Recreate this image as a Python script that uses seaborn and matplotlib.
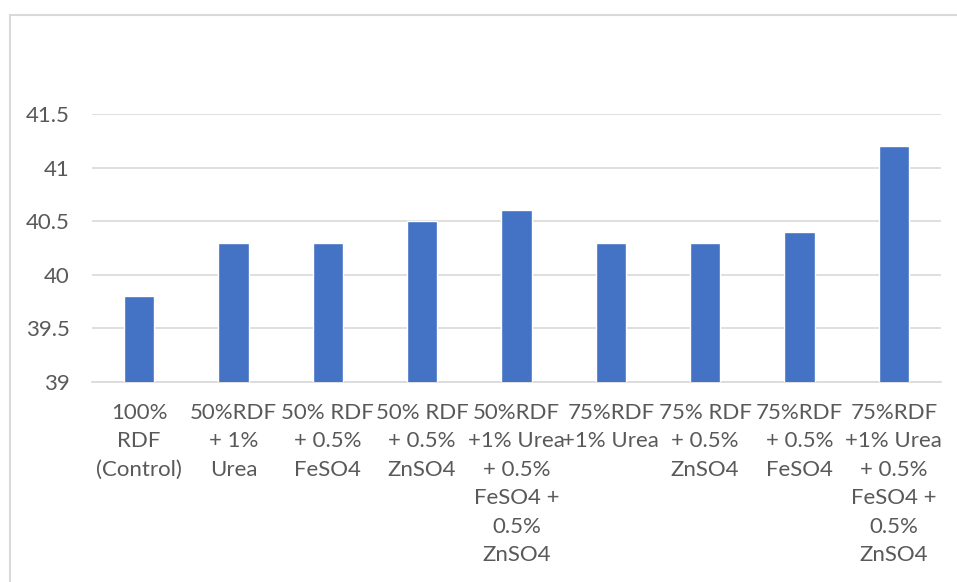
import matplotlib
matplotlib.use("Agg")
import matplotlib.pyplot as plt
from matplotlib.patches import Rectangle
import seaborn as sns
import pandas as pd

treatments = [
    "100%\nRDF\n(Control)",
    "50%RDF\n+ 1%\nUrea",
    "50% RDF\n+ 0.5%\nFeSO4",
    "50% RDF\n+ 0.5%\nZnSO4",
    "50%RDF\n+1% Urea\n+ 0.5%\nFeSO4 +\n0.5%\nZnSO4",
    "75%RDF\n+1% Urea",
    "75% RDF\n+ 0.5%\nZnSO4",
    "75%RDF\n+ 0.5%\nFeSO4",
    "75%RDF\n+1% Urea\n+ 0.5%\nFeSO4 +\n0.5%\nZnSO4",
]
values = [39.8, 40.3, 40.3, 40.5, 40.6, 40.3, 40.3, 40.4, 41.2]
y_ticks = [39, 39.5, 40, 40.5, 41, 41.5]
y_tick_labels = ["39", "39.5", "40", "40.5", "41", "41.5"]

df = pd.DataFrame({"treatment": treatments, "value": values})

sns.set_theme(style="white")
plt.rcParams["font.family"] = ["Lato", "DejaVu Sans"]

text_color = "#595959"
grid_color = "#d9d9d9"
bar_color = "#4472c4"

W, H = 957, 582
fig = plt.figure(figsize=(W / 100, H / 100), dpi=100)
ax = fig.add_axes([92 / W, (H - 382) / H, (941 - 92) / W, (382 - 114) / H])

sns.barplot(data=df, x="treatment", y="value", color=bar_color,
            width=0.32, saturation=1, ax=ax, zorder=3)

ax.set_ylim(39, 41.5)
ax.set_yticks(y_ticks)
ax.set_yticklabels(y_tick_labels)
ax.set_xlim(-0.5, len(treatments) - 0.5)
ax.set_xlabel("")
ax.set_ylabel("")

ax.yaxis.grid(True, color=grid_color, linewidth=1.2, zorder=0)
ax.xaxis.grid(False)
for side in ["top", "right", "left"]:
    ax.spines[side].set_visible(False)
ax.spines["bottom"].set_color(grid_color)
ax.spines["bottom"].set_linewidth(1.2)

ax.tick_params(axis="y", length=0, pad=16, labelsize=16, labelcolor=text_color)
ax.tick_params(axis="x", length=0, pad=15, labelsize=16, labelcolor=text_color)
for lbl in ax.get_xticklabels():
    lbl.set_linespacing(1.53)
    lbl.set_horizontalalignment("center")

# outer chart frame
fig.patches.append(Rectangle((9.5 / W, -0.1), 1.2, (H - 15) / H + 0.1,
                             transform=fig.transFigure, fill=False,
                             edgecolor=grid_color, linewidth=1.5))

fig.savefig("out.png", dpi=100, facecolor="white")
